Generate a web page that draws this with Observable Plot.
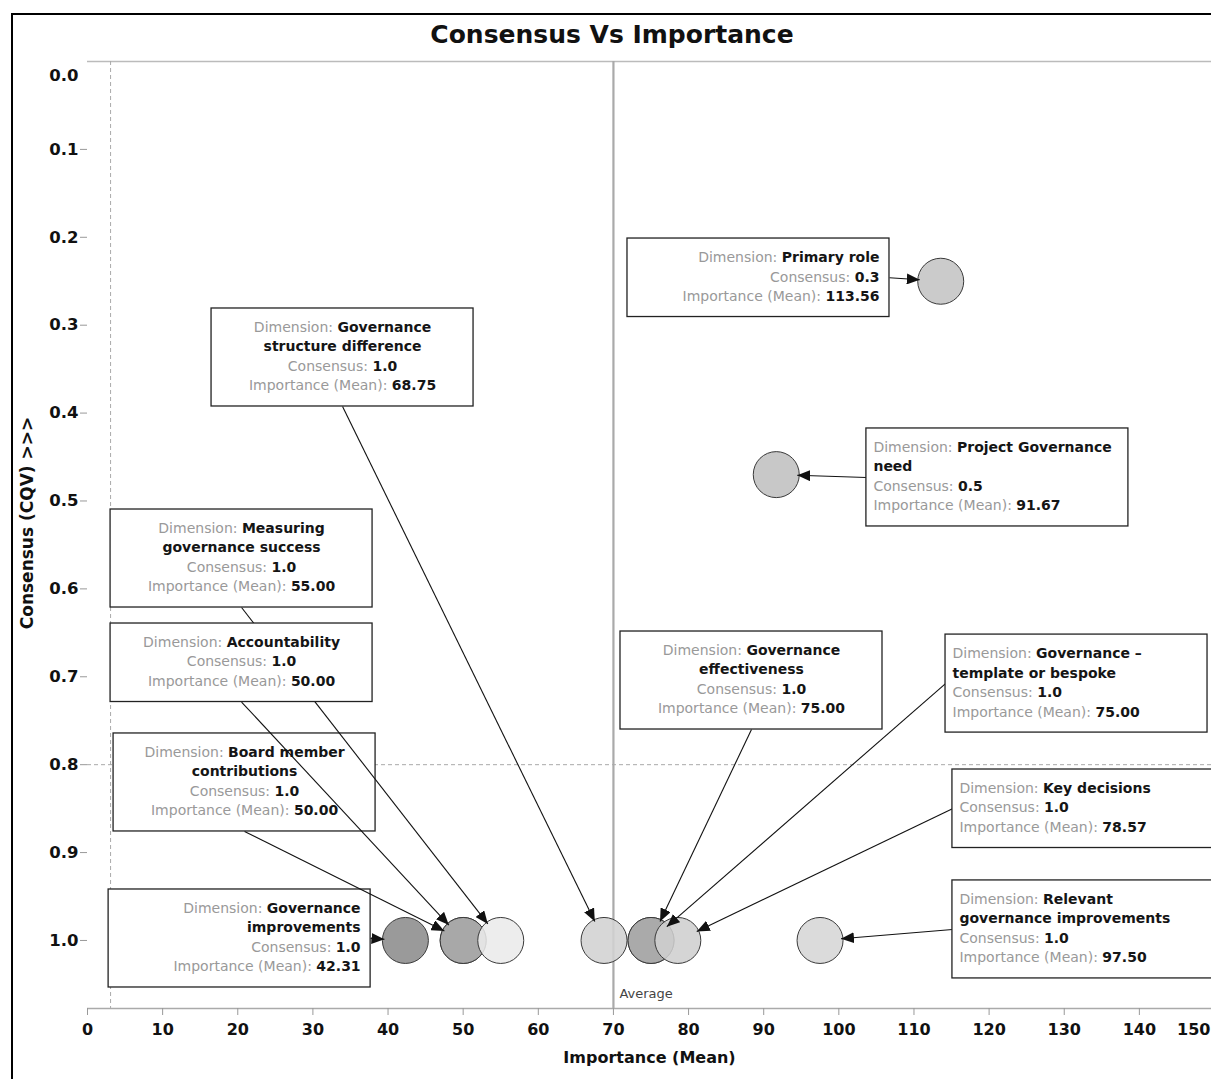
<!DOCTYPE html>
<html>
<head>
<meta charset="utf-8">
<script src="https://cdn.jsdelivr.net/npm/d3@7"></script>
<script src="https://cdn.jsdelivr.net/npm/@observablehq/plot@0.6"></script>
<style>
  html, body { margin: 0; padding: 0; background: #fff; overflow: hidden; }
  body { font-family: "DejaVu Sans", sans-serif; }
  #frame { position: absolute; left: 11px; top: 13px; width: 1198px; height: 1066px;
           border-top: 2px solid #000; border-left: 2px solid #000; overflow: hidden; }
  #title { height: 26px; padding-top: 7px; line-height: 26px; text-align: center;
           font-size: 25px; font-weight: bold; color: #111; }
  #chart svg { display: block; }
</style>
</head>
<body>
<div id="frame">
  <div id="title">Consensus Vs Importance</div>
  <div id="chart"></div>
</div>
<script>
// ---------------- data ----------------
const dimensions = [
  "Primary role",
  "Project Governance need",
  "Governance structure difference",
  "Measuring governance success",
  "Accountability",
  "Board member contributions",
  "Governance improvements",
  "Governance effectiveness",
  "Governance – template or bespoke",
  "Key decisions",
  "Relevant governance improvements"
];
const importance = [113.56, 91.67, 68.75, 55.00, 50.00, 50.00, 42.31, 75.00, 75.00, 78.57, 97.50];
const consensus  = [0.25, 0.47, 1.0, 1.0, 1.0, 1.0, 1.0, 1.0, 1.0, 1.0, 1.0];
const averageImportance = 70;
const refImportance = 3.07;
const refConsensus = 0.8;
const xTicks = [0, 10, 20, 30, 40, 50, 60, 70, 80, 90, 100, 110, 120, 130, 140, 150];
const yTicks = [0.0, 0.1, 0.2, 0.3, 0.4, 0.5, 0.6, 0.7, 0.8, 0.9, 1.0];

// ---------------- styling / annotation layout ----------------
const dotShade = ["#c4c4c4", "#c0c0c0", "#d2d2d2", "#eaeaea", "#a6a6a6", "#a6a6a6", "#8c8c8c", "#a9a9a9", "#a9a9a9", "#cfcfcf", "#d6d6d6"];
// annotation box top-left corner, in data units (importance, consensus)
const boxLeft = [71.87, 103.67, 16.51, 3.07, 3.07, 3.47, 2.81, 70.94, 114.2, 115.12, 115.12];
const boxTop  = [0.2014, 0.4175, 0.281, 0.5097, 0.6394, 0.7645, 0.942, 0.6485, 0.652, 0.8055, 0.9317];
const boxAlign = ["right", "left", "center", "center", "center", "center", "right", "center", "left", "left", "left"];
const wrapAfter = [0, 2, 1, 1, 0, 2, 1, 1, 2, 0, 1];
const boxUnderLinks = [false, false, false, false, false, true, true, false, false, false, false];

// ---------------- geometry ----------------
const W = 1198, H = 1031;
const mL = 74, mR = 0, mT = 13, mB = 71;
const xMax = 149.6, yMax = 1.0774;
const ppuX = (W - mL - mR) / xMax;
const ppuY = (H - mT - mB) / yMax;
const R = 23, TIP = 21;
const FS = 14, BOX_W = 262;

const ctx = document.createElement("canvas").getContext("2d");
function tw(s, bold) {
  ctx.font = `${bold ? "bold " : ""}${FS}px "DejaVu Sans"`;
  return ctx.measureText(s).width;
}

const boxes = [], segs = [], links = [];
dimensions.forEach((name, i) => {
  const words = name.split(" ");
  const nameLines = wrapAfter[i]
    ? [words.slice(0, wrapAfter[i]).join(" "), words.slice(wrapAfter[i]).join(" ")]
    : [name];
  const lines = [];
  lines.push([{t: "Dimension: ", b: false}, {t: nameLines[0], b: true}]);
  if (nameLines[1]) lines.push([{t: nameLines[1], b: true}]);
  lines.push([{t: "Consensus: ", b: false}, {t: consensus[i].toFixed(1), b: true}]);
  lines.push([{t: "Importance (Mean): ", b: false}, {t: importance[i].toFixed(2), b: true}]);
  const hPx = 20 + 19.5 * lines.length;
  const x1 = boxLeft[i], x2 = boxLeft[i] + BOX_W / ppuX;
  const y1 = boxTop[i], y2 = boxTop[i] + hPx / ppuY;
  const under = boxUnderLinks[i];
  boxes.push({x1, x2, y1, y2, under});
  lines.forEach((line, j) => {
    const widths = line.map(s => tw(s.t, s.b));
    const total = d3.sum(widths);
    let start = boxAlign[i] === "left" ? 7 : boxAlign[i] === "right" ? BOX_W - 10 - total : (BOX_W - total) / 2;
    line.forEach((s, k) => {
      segs.push({x: x1 + start / ppuX, y: y1 + (19 + 19.5 * j) / ppuY, t: s.t, b: s.b, under});
      start += widths[k];
    });
  });
  let sx, sy;
  if (boxAlign[i] === "right") { sx = x2; sy = (y1 + y2) / 2; }
  else if (boxAlign[i] === "left") { sx = x1; sy = (y1 + y2) / 2; }
  else { sx = (x1 + x2) / 2; sy = y2; }
  const tx = importance[i], ty = consensus[i];
  const dxp = (tx - sx) * ppuX, dyp = (ty - sy) * ppuY;
  const len = Math.hypot(dxp, dyp);
  links.push({x1: sx, y1: sy, x2: tx - TIP * dxp / len / ppuX, y2: ty - TIP * dyp / len / ppuY});
});

function arrowMarker(color, context) {
  const ns = "http://www.w3.org/2000/svg";
  const doc = (context && context.document) || document;
  const m = doc.createElementNS(ns, "marker");
  m.setAttribute("viewBox", "-13 -5.5 14 11");
  m.setAttribute("markerWidth", 14);
  m.setAttribute("markerHeight", 11);
  m.setAttribute("markerUnits", "userSpaceOnUse");
  m.setAttribute("orient", "auto");
  m.setAttribute("refX", 0);
  m.setAttribute("refY", 0);
  const p = doc.createElementNS(ns, "path");
  p.setAttribute("d", "M-13,-5.5L0,0L-13,5.5Z");
  p.setAttribute("fill", "#111");
  p.setAttribute("stroke", "none");
  m.appendChild(p);
  return m;
}

const order = d3.range(dimensions.length).sort((a, b) => importance[a] - importance[b]);
const txt = {fill: "#999"}, bld = {fill: "#151515", fontWeight: "bold"};

function build(marker) {
  const boxMarks = (flag) => [
    Plot.rect(boxes.filter(d => d.under === flag), {x1: "x1", x2: "x2", y1: "y1", y2: "y2", fill: "white", stroke: "#222", strokeWidth: 1.3}),
    Plot.text(segs.filter(d => d.under === flag && !d.b), {x: "x", y: "y", text: "t", textAnchor: "start", fontSize: FS, ...txt}),
    Plot.text(segs.filter(d => d.under === flag && d.b), {x: "x", y: "y", text: "t", textAnchor: "start", fontSize: FS, ...bld})
  ];
  return Plot.plot({
    width: W, height: H,
    marginLeft: mL, marginRight: mR, marginTop: mT, marginBottom: mB,
    x: {domain: [0, xMax]},
    y: {domain: [0, yMax], reverse: true},
    style: {fontFamily: '"DejaVu Sans", sans-serif', background: "transparent", overflow: "visible"},
    marks: [
      Plot.ruleY([0], {stroke: "#bbb", strokeWidth: 1.5}),
      Plot.ruleY([yMax], {stroke: "#aaa", strokeWidth: 1.5}),
      Plot.ruleX([refImportance], {stroke: "#aaa", strokeDasharray: "4,3"}),
      Plot.ruleY([refConsensus], {stroke: "#aaa", strokeDasharray: "4,3"}),
      Plot.ruleX([averageImportance], {y1: 0, y2: yMax, stroke: "#aaa", strokeWidth: 2.2}),
      Plot.text(["Average"], {x: averageImportance, frameAnchor: "bottom", textAnchor: "start", dx: 6, dy: -11, fontSize: 13, fill: "#444"}),
      Plot.axisX(xTicks.filter(t => t <= xMax), {anchor: "bottom", tickSize: 7, tickPadding: 8, stroke: "#999", fill: "#111", fontSize: 16, fontWeight: "bold", label: null}),
      Plot.text(xTicks.filter(t => t > xMax), {x: xMax, text: d => String(d), frameAnchor: "bottom", lineAnchor: "top", textAnchor: "end", dx: -1, dy: 15, fontSize: 16, fontWeight: "bold", fill: "#111"}),
      Plot.axisY(yTicks.filter(t => t > 0), {anchor: "left", tickSize: 7, tickPadding: 2, tickFormat: d => d.toFixed(1), stroke: "#999", fill: "#111", fontSize: 16.5, fontWeight: "bold", label: null}),
      Plot.text(yTicks.filter(t => t === 0), {y: d => d, text: d => d.toFixed(1), frameAnchor: "left", textAnchor: "end", dx: -9, dy: 14, fontSize: 16.5, fontWeight: "bold", fill: "#111"}),
      Plot.text(["Importance (Mean)"], {frameAnchor: "bottom", dy: 54, fontSize: 16, fontWeight: "bold", fill: "#111"}),
      Plot.text(["Consensus (CQV) >>>"], {frameAnchor: "left", textAnchor: "middle", rotate: -90, dx: -60, dy: -12, fontSize: 17, fontWeight: "bold", fill: "#111"}),
      Plot.dot(order, {x: i => importance[i], y: i => consensus[i], r: R, fill: i => dotShade[i], fillOpacity: 0.88, stroke: "#3a3a3a", strokeWidth: 1}),
      ...boxMarks(true),
      Plot.link(links, {x1: "x1", y1: "y1", x2: "x2", y2: "y2", stroke: "#111", strokeWidth: 1.1, markerEnd: marker}),
      ...boxMarks(false)
    ]
  });
}

let plot;
try { plot = build(arrowMarker); } catch (e) { console.error(e); plot = build("arrow"); }
document.getElementById("chart").appendChild(plot);
</script>
</body>
</html>
